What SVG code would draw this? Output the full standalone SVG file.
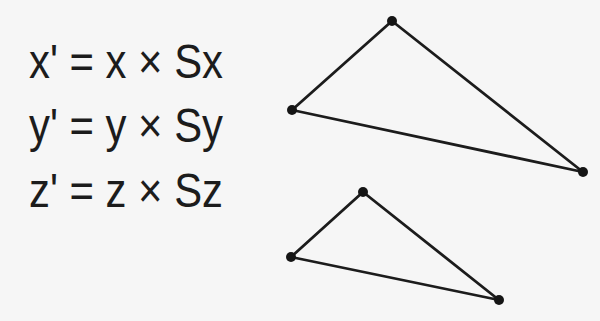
<svg xmlns="http://www.w3.org/2000/svg" width="600" height="321" viewBox="0 0 600 321">
<style>
.eq{font-family:"Liberation Sans","DejaVu Sans",sans-serif;font-size:48px;fill:#1c1c1c}
.edge{fill:none;stroke:#1c1c1c;stroke-width:2.8;stroke-linejoin:round}
.pt{fill:#151515}
</style>
<rect width="600" height="321" fill="#f6f6f6"/>
<g id="equations">
<text class="eq" x="29" y="78" textLength="194" lengthAdjust="spacingAndGlyphs">x' = x × Sx</text>
<text class="eq" x="29" y="142" textLength="194" lengthAdjust="spacingAndGlyphs">y' = y × Sy</text>
<text class="eq" x="29" y="207" textLength="194" lengthAdjust="spacingAndGlyphs">z' = z × Sz</text>
</g>
<g id="connectors">
<polygon class="edge" points="392,21 292,110 583,172"/>
<polygon class="edge" points="363,192 291,257 499,300"/>
</g>
<g id="big-top"><circle class="pt" cx="392" cy="21" r="5"/></g>
<g id="big-left"><circle class="pt" cx="292" cy="110" r="5"/></g>
<g id="big-right"><circle class="pt" cx="583" cy="172" r="5"/></g>
<g id="small-top"><circle class="pt" cx="363" cy="192" r="5"/></g>
<g id="small-left"><circle class="pt" cx="291" cy="257" r="5"/></g>
<g id="small-right"><circle class="pt" cx="499" cy="300" r="5"/></g>
</svg>
